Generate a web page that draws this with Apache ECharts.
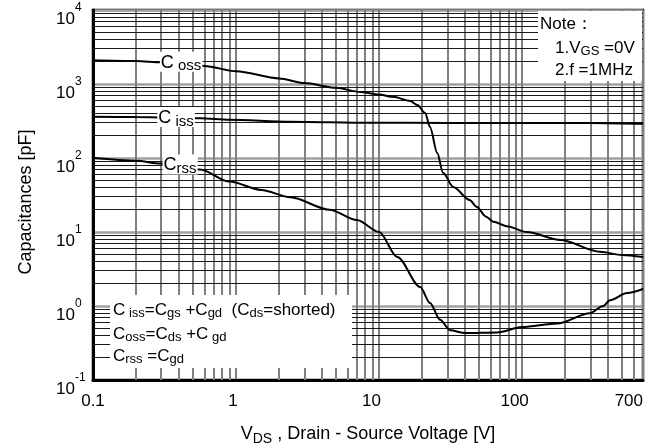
<!DOCTYPE html>
<html>
<head>
<meta charset="utf-8">
<script src="https://cdn.jsdelivr.net/npm/echarts@6/dist/echarts.min.js"></script>
<style>
html, body { margin: 0; padding: 0; background: #fff; }
#chart { width: 662px; height: 448px; }
</style>
</head>
<body>
<div id="chart"></div>
<script>
// VDS [V] and capacitance [pF]
var vdsCoss = [0.1, 0.2, 0.3, 0.4, 0.6, 1, 2, 3, 5, 7.4, 10, 12.5, 16.5, 18.5, 21, 22.7, 25.5, 28, 33, 43, 48, 56, 63, 78, 108, 185, 350, 500, 700];
var coss    = [2100, 2050, 1960, 1880, 1750, 1490, 1190, 1030, 890, 780, 720, 670, 590, 520, 405, 262, 117, 63, 40.6, 27, 22, 16.1, 13.8, 12, 10, 7.8, 5.4, 4.9, 4.6];

var vdsCiss = [0.1, 0.2, 0.4, 0.56, 0.9, 2.4, 8.6, 30, 100, 300, 500, 700];
var ciss    = [361, 357, 347, 344, 330, 310, 300, 298, 297, 296, 293, 290];

var vdsCrss = [0.1, 0.2, 0.3, 0.4, 0.56, 0.9, 1.5, 2.4, 4.5, 7, 10, 13.4, 19.4, 22.7, 26.7, 31.4, 40, 67, 100, 176, 298, 368, 412, 542, 700];
var crss    = [101, 92, 84, 77, 70, 48, 37, 29.5, 20, 14.5, 10, 4.6, 1.8, 1.1, 0.65, 0.47, 0.43, 0.44, 0.52, 0.58, 0.80, 1.0, 1.2, 1.5, 1.7];

// where the curve names sit, and their text
var labelAt = 0.4;
var curveNames = {
	Coss: '{c|C}{s| oss}',
	Ciss: '{c|C}{s| iss}',
	Crss: '{c|C}{s|rss}'
};

var xDecades = [0.1, 1, 10, 100];
var yDecades = [0.1, 1, 10, 100, 1000];
var minorSteps = [2, 3, 4, 5, 6, 7, 8, 9];
var xMax = 700;

var FONT = 'Liberation Sans, Arial, sans-serif';

function minorLines(decades, key, limit) {
	var out = [];
	decades.forEach(function (d) {
		minorSteps.forEach(function (k) {
			var v = +(d * k).toPrecision(3);
			if (v < limit) {
				var item = {};
				item[key] = v;
				out.push(item);
			}
		});
	});
	return out;
}

function curveData(xs, ys, name, offset) {
	return xs.map(function (x, i) {
		var item = { value: [x, ys[i]] };
		if (x === labelAt) {
			item.label = { show: true, formatter: name, offset: offset };
		}
		return item;
	});
}

// main text + lowered subscript
function subRich(main, sub, drop) {
	return {
		m: { fontSize: main, lineHeight: 20, verticalAlign: 'bottom', fontFamily: FONT, color: '#000' },
		s: { fontSize: sub, lineHeight: 10, verticalAlign: 'top', padding: [drop, 0, 0, 0], fontFamily: FONT, color: '#000' }
	};
}

function curve(name, xs, ys, offset) {
	var rich = subRich(18, 15, 7);
	rich.c = rich.m;
	return {
		type: 'line',
		name: name,
		z: 5,
		data: curveData(xs, ys, curveNames[name], offset),
		smooth: 0.3,
		smoothMonotone: 'x',
		symbol: 'circle',
		symbolSize: 1,
		itemStyle: { color: '#000' },
		lineStyle: { color: '#000', width: 2 },
		label: {
			show: false,
			position: 'inside',
			backgroundColor: '#fff',
			padding: [0, 1, 0, 1],
			rich: rich
		},
		emphasis: { disabled: true },
		silent: true
	};
}

var boxRich = subRich(17, 13, 8);
function boxText(x, y, text) {
	return {
		type: 'text', x: x, y: y, z: 21, silent: true,
		style: { text: text, rich: boxRich, textVerticalAlign: 'middle', fill: '#000', font: '17px ' + FONT }
	};
}

function gridLines(key, values, color, width) {
	return {
		type: 'line',
		z: 1,
		data: [],
		silent: true,
		markLine: {
			silent: true,
			symbol: ['none', 'none'],
			label: { show: false },
			animation: false,
			lineStyle: { color: color, width: width, type: 'solid' },
			data: values
		}
	};
}

var chart = echarts.init(document.getElementById('chart'));
chart.setOption({
	animation: false,
	backgroundColor: '#fff',
	grid: {
		left: 93, right: 19, top: 10, bottom: 68,
		outerBoundsMode: 'none', containLabel: false,
		show: true, borderColor: '#000', borderWidth: 2.5
	},
	xAxis: {
		type: 'log',
		min: 0.1,
		max: xMax,
		logBase: 10,
		axisLine: { onZero: false, lineStyle: { color: '#000', width: 3 } },
		axisTick: { show: false },
		splitLine: { show: true, lineStyle: { color: '#808080', width: 2 } },
		axisLabel: {
			color: '#000', fontSize: 17, fontFamily: FONT, margin: 13,
			alignMaxLabel: 'right',
			formatter: function (v) {
				if (v < 1) return '{n|' + v.toFixed(1) + '}';
				var r = Math.round(v);
				if (r === 1) return '{a|1}';
				if (r === 10 || r === 100) return '{b|' + r + '}';
				return '{n|' + r + '}';
			},
			rich: {
				n: { fontSize: 17, fontFamily: FONT, color: '#000' },
				a: { fontSize: 17, fontFamily: FONT, color: '#000', padding: [0, 6, 0, 0] },
				b: { fontSize: 17, fontFamily: FONT, color: '#000', padding: [0, 15, 0, 0] }
			}
		},
		name: '{m|V}{s|DS}{m| , Drain - Source Voltage [V]}',
		nameLocation: 'middle',
		nameGap: 43,
		nameTextStyle: { rich: subRich(18, 14, 9) }
	},
	yAxis: {
		type: 'log',
		min: 0.1,
		max: 10000,
		logBase: 10,
		axisLine: { lineStyle: { color: '#000', width: 3 } },
		axisTick: { show: false },
		splitLine: { show: true, lineStyle: { color: '#a0a0a0', width: 2.5 } },
		axisLabel: {
			align: 'left',
			margin: 37,
			formatter: function (v) {
				return '{m|10}{e|' + Math.round(Math.log10(v)) + '}';
			},
			rich: {
				m: { fontSize: 17, lineHeight: 35, verticalAlign: 'bottom', fontFamily: FONT, color: '#000' },
				e: { fontSize: 12, lineHeight: 12, verticalAlign: 'top', padding: [9, 0, 0, 0], fontFamily: FONT, color: '#000' }
			}
		},
		name: 'Capacitances [pF]',
		nameLocation: 'middle',
		nameGap: 58,
		nameTextStyle: { fontSize: 18, fontFamily: FONT, color: '#000', padding: [0, 14, 0, 0] }
	},
	graphic: [
		{ type: 'rect', z: 20, silent: true, shape: { x: 538, y: 11, width: 104, height: 70 }, style: { fill: '#fff' } },
		boxText(540, 23, '{m|Note：}'),
		boxText(555, 47, '{m|1.V}{s|GS}{m| =0V}'),
		boxText(555, 69, '{m|2.f =1MHz}'),
		{ type: 'rect', z: 20, silent: true, shape: { x: 110, y: 295, width: 242, height: 73 }, style: { fill: '#fff' } },
		boxText(113, 309, '{m|C}{s| iss}{m|=C}{s|gs}{m| +C}{s|gd}{m|  (C}{s|ds}{m|=shorted)}'),
		boxText(113, 333, '{m|C}{s|oss}{m|=C}{s|ds}{m| +C}{s| gd}'),
		boxText(113, 355, '{m|C}{s|rss}{m| =C}{s|gd}')
	],
	series: [
		gridLines('x', minorLines(xDecades, 'xAxis', xMax), '#808080', 2),
		gridLines('y', minorLines(yDecades, 'yAxis', 10000), '#1a1a1a', 1),
		curve('Coss', vdsCoss, coss, [2, -2]),
		curve('Ciss', vdsCiss, ciss, [-3, -1]),
		curve('Crss', vdsCrss, crss, [1, -2])
	]
});
</script>
</body>
</html>
